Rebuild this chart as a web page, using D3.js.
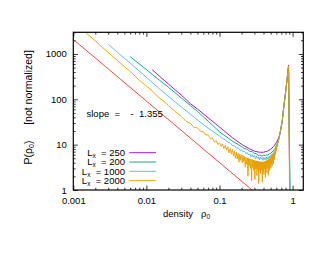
<!DOCTYPE html>
<html>
<head>
<meta charset="utf-8">
<script src="https://cdn.jsdelivr.net/npm/d3@7"></script>
<style>
  body { margin: 0; background: #fff; }
  svg { display: block; font-family: "Liberation Sans", Arial, sans-serif; }
  text { white-space: pre; }
</style>
</head>
<body>
<svg id="chart" width="330" height="255"></svg>
<script>
// axis ticks
const xTicks = [0.001, 0.01, 0.1, 1]
const xTickLabels = ['0.001', '0.01', '0.1', '1']
const yTicks = [1, 10, 100, 1000]
const yTickLabels = ['1', '10', '100', '1000']

// series (legend order)
const seriesNames = ['250', '200', '1000', '2000']
const seriesColors = ['#9400d3', '#009e73', '#56b4e9', '#e69f00']

const l250 = [[0.012,450],[0.015,326],[0.02,217],[0.03,124],[0.04,80],[0.05,61],[0.07,39],[0.1,24.5],
  [0.15,14.2],[0.2,10.2],[0.25,8.3],[0.3,7.2],[0.35,6.8],[0.4,6.8],[0.45,7.2],[0.5,7.9],[0.55,9.1],
  [0.6,11.1],[0.65,14.5],[0.68,19.5],[0.72,32],[0.76,72],[0.8,141],[0.84,279],[0.88,560],[0.93,0.05]]

const l200 = [[0.006,880],[0.007,711],[0.01,451],[0.012,355],[0.015,266],[0.02,185],[0.03,107],[0.04,73],
  [0.05,54],[0.07,33],[0.1,19.2],[0.15,12],[0.2,9.1],[0.22,8.2],[0.24,7.9],[0.26,7.1],[0.28,7.0],[0.3,6.4],
  [0.32,6.3],[0.34,5.8],[0.36,5.9],[0.38,5.6],[0.4,5.85],[0.42,5.7],[0.44,6.0],[0.46,5.9],[0.48,6.3],
  [0.5,6.4],[0.52,6.9],[0.54,7.1],[0.56,7.8],[0.58,8.5],[0.6,9.6],[0.62,10.8],[0.65,13.6],[0.68,19.3],
  [0.72,32],[0.76,71],[0.8,140],[0.84,277],[0.88,545],[0.94,0.05]]

const l1000 = [[0.003,1640],[0.004,1096],[0.005,805],[0.006,630],[0.007,505],[0.01,305],[0.012,236],
  [0.015,172],[0.02,116],[0.03,68],[0.04,47],[0.05,35],[0.07,23],[0.1,15.6],[0.11,13.6],[0.12,12.9],
  [0.13,11.3],[0.14,10.9],[0.15,9.6],[0.16,9.5],[0.17,8.4],[0.18,8.5],[0.19,7.5],[0.2,7.8],[0.21,6.9],
  [0.22,7.2],[0.23,6.3],[0.24,6.7],[0.25,5.9],[0.26,6.3],[0.27,5.4],[0.28,6.0],[0.29,5.3],[0.3,5.8],
  [0.31,4.9],[0.32,5.6],[0.33,5.0],[0.34,5.4],[0.35,4.6],[0.36,5.3],[0.37,4.8],[0.38,5.2],[0.39,4.5],
  [0.4,5.2],[0.41,4.7],[0.42,5.2],[0.43,4.6],[0.44,5.3],[0.45,4.8],[0.46,5.4],[0.47,4.9],[0.48,5.6],
  [0.49,5.1],[0.5,5.8],[0.51,5.3],[0.52,6.1],[0.53,5.7],[0.54,6.5],[0.55,6.2],[0.56,7.0],[0.57,6.9],
  [0.58,7.8],[0.59,7.8],[0.6,8.9],[0.61,9.3],[0.62,10.3],[0.63,11.2],[0.64,12.2],[0.65,13.5],
  [0.68,19.2],[0.72,32],[0.76,72],[0.8,140],[0.84,278],[0.88,540],[0.935,0.05]]

const l2000 = [[0.0012,3980],[0.0015,2900],[0.002,1929],[0.0025,1390],[0.003,1083],[0.004,720],[0.005,525],
  [0.006,410],[0.007,325],[0.008,262],[0.01,196],[0.012,154],[0.015,107],[0.017,93],
  [0.02,73],[0.025,53],[0.03,42],[0.035,32.5],[0.04,29.5],[0.045,24],[0.05,23.5],[0.055,19.8],[0.06,19.4],
  [0.065,16.3],[0.07,16.4],[0.075,13.6],[0.08,14.0],[0.085,11.4],[0.09,12.3],[0.095,10.1],[0.1,10.9],
  [0.105,9.2],[0.11,10.4],[0.115,8.2],[0.12,9.6],[0.125,7.6],[0.13,9.0],[0.135,6.6],[0.14,8.2],[0.145,6.3],
  [0.15,7.8],[0.155,5.7],[0.16,7.3],[0.165,5.0],[0.17,6.9],[0.175,4.9],[0.18,6.5],[0.185,4.1],[0.19,6.2],
  [0.195,4.5],[0.2,5.9],[0.205,4.0],[0.21,5.8],[0.215,4.2],[0.22,5.5],[0.225,3.2],[0.23,5.3],[0.235,3.7],
  [0.24,5.1],[0.245,2.0],[0.25,5.0],[0.255,3.4],[0.26,4.9],[0.265,3.0],[0.27,4.8],[0.275,1.6],[0.28,4.7],
  [0.285,3.1],[0.29,4.6],[0.295,2.7],[0.3,4.5],[0.305,1.7],[0.31,4.4],[0.315,2.9],[0.32,4.4],[0.325,2.1],
  [0.33,4.3],[0.335,2.8],[0.34,4.3],[0.345,1.4],[0.35,4.2],[0.355,2.7],[0.36,4.2],[0.365,2.3],[0.37,4.2],
  [0.375,2.8],[0.38,4.2],[0.385,1.5],[0.39,4.1],[0.395,2.6],[0.4,4.2],[0.405,2.2],[0.41,4.2],[0.415,2.9],
  [0.42,4.3],[0.425,1.9],[0.43,4.4],[0.435,3.0],[0.44,4.4],[0.445,2.4],[0.45,4.6],[0.455,3.2],[0.46,4.6],
  [0.465,2.1],[0.47,4.8],[0.475,3.4],[0.48,4.8],[0.485,2.7],[0.49,5.0],[0.495,3.6],[0.5,5.1],[0.505,3.0],
  [0.51,5.3],[0.515,3.9],[0.52,5.5],[0.525,3.4],[0.53,5.8],[0.535,4.3],[0.54,6.0],[0.545,3.8],[0.55,6.4],
  [0.555,5.0],[0.56,6.6],[0.565,4.7],[0.57,7.2],[0.575,6.0],[0.58,7.6],[0.585,6.1],[0.59,8.3],[0.595,7.2],
  [0.6,8.8],[0.605,7.9],[0.61,9.6],[0.615,8.9],[0.62,10.4],[0.625,10.0],[0.63,11.5],[0.635,11.1],
  [0.64,12.6],[0.645,12.8],[0.65,14.0],[0.655,14.5],[0.66,15.7],[0.665,16.6],[0.67,17.8],[0.675,19.0],
  [0.68,20.5],[0.685,22],[0.69,23.5],[0.695,25],[0.7,27],[0.72,32],[0.76,70],[0.8,138],[0.84,272],
  [0.88,530],[0.92,0.05]]

// fitted power law, ends
const fitLine = [[0.001,2085],[0.279,1]]
const fitLabel = 'slope  =    -  1.355'

const allSeries = [l250, l200, l1000, l2000]

const width = 330, height = 255
const margin = {top: 32.3, right: 26.7, bottom: 65, left: 73.3}
const fontSize = 9.5

const svg = d3.select('#chart')

const x = d3.scaleLog()
  .domain([0.001, 1.4])
  .range([margin.left, width - margin.right])

const y = d3.scaleLog()
  .domain([1, 3000])
  .range([height - margin.bottom, margin.top])

const x0 = x.range()[0], x1 = x.range()[1]
const y0 = y.range()[0], y1 = y.range()[1]

// minor ticks 2..9 in each decade
const minorTicks = (scale, majors) => {
  const out = []
  const [lo, hi] = scale.domain()
  for (const m of majors) {
    for (let k = 2; k <= 9; k++) {
      const v = m * k
      if (v >= lo && v <= hi) out.push(v)
    }
  }
  return out
}
const xMinor = minorTicks(x, xTicks)
const yMinor = minorTicks(y, yTicks)

svg.append('clipPath').attr('id', 'plot-clip')
  .append('rect')
  .attr('x', x0).attr('y', y1)
  .attr('width', x1 - x0).attr('height', y0 - y1)

const styleAxis = (g) => {
  g.select('.domain').remove()
  g.selectAll('line').attr('stroke', '#000').attr('stroke-width', 0.8)
  g.selectAll('text').attr('font-family', '"Liberation Sans", Arial, sans-serif')
    .attr('font-size', fontSize).attr('fill', '#000')
}

// bottom / top
svg.append('g').attr('transform', `translate(0,${y0})`)
  .call(d3.axisBottom(x).tickValues(xTicks).tickFormat((d, i) => xTickLabels[i]).tickSize(-4.5).tickPadding(7))
  .call(styleAxis)
svg.append('g').attr('transform', `translate(0,${y0})`)
  .call(d3.axisBottom(x).tickValues(xMinor).tickFormat('').tickSize(-2.3))
  .call(styleAxis)
svg.append('g').attr('transform', `translate(0,${y1})`)
  .call(d3.axisTop(x).tickValues(xTicks).tickFormat('').tickSize(-4.5))
  .call(styleAxis)
svg.append('g').attr('transform', `translate(0,${y1})`)
  .call(d3.axisTop(x).tickValues(xMinor).tickFormat('').tickSize(-2.3))
  .call(styleAxis)

// left / right
svg.append('g').attr('transform', `translate(${x0},0)`)
  .call(d3.axisLeft(y).tickValues(yTicks).tickFormat((d, i) => yTickLabels[i]).tickSize(-4.5).tickPadding(6.5))
  .call(styleAxis)
svg.append('g').attr('transform', `translate(${x0},0)`)
  .call(d3.axisLeft(y).tickValues(yMinor).tickFormat('').tickSize(-2.3))
  .call(styleAxis)
svg.append('g').attr('transform', `translate(${x1},0)`)
  .call(d3.axisRight(y).tickValues(yTicks).tickFormat('').tickSize(-4.5))
  .call(styleAxis)
svg.append('g').attr('transform', `translate(${x1},0)`)
  .call(d3.axisRight(y).tickValues(yMinor).tickFormat('').tickSize(-2.3))
  .call(styleAxis)

// curves
const line = d3.line()
  .x(d => x(d[0]))
  .y(d => y(Math.max(d[1], 0.01)))

const plot = svg.append('g').attr('clip-path', 'url(#plot-clip)')

allSeries.forEach((data, i) => {
  plot.append('path')
    .datum(data)
    .attr('d', line)
    .attr('fill', 'none')
    .attr('stroke', seriesColors[i])
    .attr('stroke-width', 0.9)
    .attr('stroke-linejoin', 'round')
})

plot.append('path')
  .datum(fitLine)
  .attr('d', line)
  .attr('fill', 'none')
  .attr('stroke', '#e51e10')
  .attr('stroke-width', 0.8)

// frame
svg.append('rect')
  .attr('x', x0).attr('y', y1)
  .attr('width', x1 - x0).attr('height', y0 - y1)
  .attr('fill', 'none')
  .attr('stroke', '#000')
  .attr('stroke-width', 1.2)

// slope label
svg.append('text')
  .attr('x', 86.5).attr('y', 117)
  .attr('font-size', fontSize)
  .text(fitLabel)

// legend
const legendTop = 156
const legendStep = 9.3
seriesNames.forEach((name, i) => {
  const ly = legendTop + i * legendStep
  const t = svg.append('text')
    .attr('x', 125).attr('y', ly)
    .attr('text-anchor', 'end')
    .attr('font-size', fontSize)
  t.append('tspan').text('L')
  t.append('tspan').attr('font-size', 6.5).attr('dy', 2).text('x')
  t.append('tspan').attr('dy', -2).text('  = ' + name)

  svg.append('line')
    .attr('x1', 129.3).attr('x2', 156)
    .attr('y1', ly - 3.3).attr('y2', ly - 3.3)
    .attr('stroke', seriesColors[i])
    .attr('stroke-width', 0.9)
})

// x label
const xl = svg.append('text')
  .attr('x', 163).attr('y', 217)
  .attr('font-size', fontSize)
xl.append('tspan').text('density   ρ')
xl.append('tspan').attr('font-size', 6.5).attr('dy', 2).text('0')

// y label, two parts
const yl = svg.append('text')
  .attr('transform', 'translate(32,152.5) rotate(-90)')
  .attr('text-anchor', 'middle')
  .attr('font-size', 10.5)
yl.append('tspan').text('P(ρ')
yl.append('tspan').attr('font-size', 7).attr('dy', 2).text('0')
yl.append('tspan').attr('dy', -2).text(')')

svg.append('text')
  .attr('transform', 'translate(32,87.5) rotate(-90)')
  .attr('text-anchor', 'middle')
  .attr('font-size', 10.5)
  .text('[not normalized]')
</script>
</body>
</html>
